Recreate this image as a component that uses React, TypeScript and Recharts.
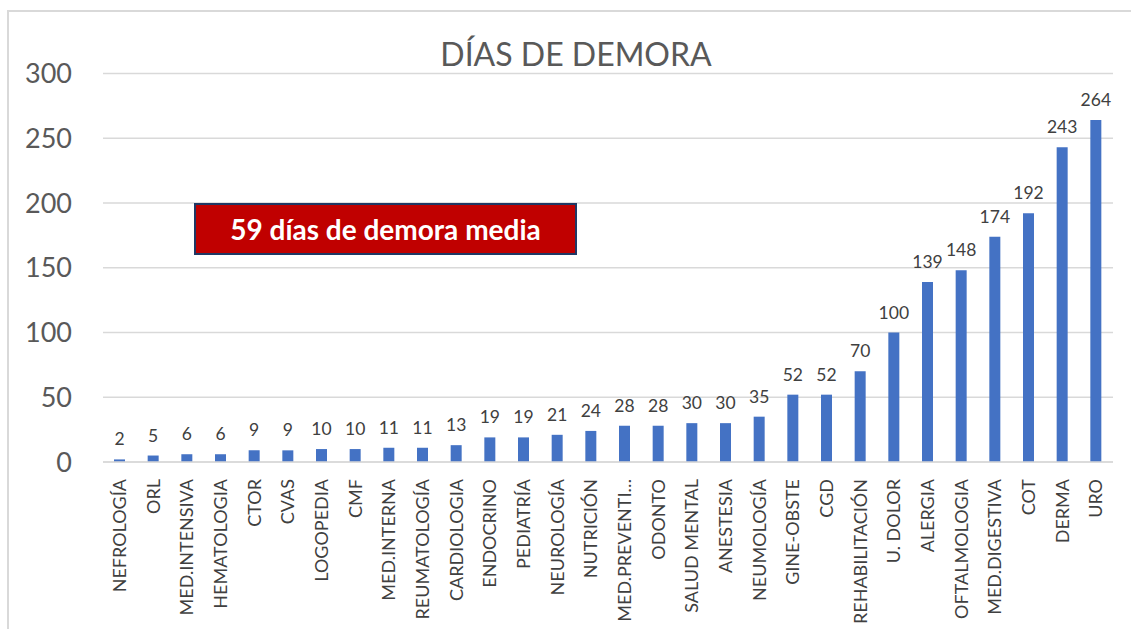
import React from 'react';
import { BarChart, Bar, XAxis, YAxis, CartesianGrid, LabelList } from 'recharts';

const categories = [
  'NEFROLOGÍA', 'ORL', 'MED.INTENSIVA', 'HEMATOLOGIA', 'CTOR', 'CVAS', 'LOGOPEDIA', 'CMF',
  'MED.INTERNA', 'REUMATOLOGÍA', 'CARDIOLOGIA', 'ENDOCRINO', 'PEDIATRÍA', 'NEUROLOGÍA',
  'NUTRICIÓN', 'MED.PREVENTI…', 'ODONTO', 'SALUD MENTAL', 'ANESTESIA', 'NEUMOLOGÍA',
  'GINE-OBSTE', 'CGD', 'REHABILITACIÓN', 'U. DOLOR', 'ALERGIA', 'OFTALMOLOGIA',
  'MED.DIGESTIVA', 'COT', 'DERMA', 'URO',
];
const dias = [2, 5, 6, 6, 9, 9, 10, 10, 11, 11, 13, 19, 19, 21, 24, 28, 28, 30, 30, 35, 52, 52, 70, 100, 139, 148, 174, 192, 243, 264];
const yTicks = [0, 50, 100, 150, 200, 250, 300];

const data = categories.map((c, i) => ({ name: c, dias: dias[i] }));

const FONT = 'Lato, "Open Sans", sans-serif';

const XTick = (props: any) => {
  const { x, y, payload } = props;
  return (
    <text
      x={0}
      y={0}
      transform={`translate(${x + 6},${y + 9}) rotate(-90)`}
      textAnchor="end"
      fontSize={18}
      fontFamily={FONT}
      fill="#404040"
    >
      {payload.value}
    </text>
  );
};

export default function App() {
  return (
    <div style={{ position: 'absolute', left: 0, top: 0, width: 1131, height: 629, background: '#fff', overflow: 'hidden' }}>
      <div style={{ position: 'absolute', left: 7, top: 10, right: 0, bottom: 0, borderLeft: '2px solid #D9D9D9', borderTop: '2px solid #D9D9D9' }} />
      <div
        style={{
          position: 'absolute', left: 0, width: 1152, top: 34, textAlign: 'center',
          fontFamily: FONT, fontSize: 32, color: '#595959', lineHeight: '40px',
        }}
      >
        DÍAS DE DEMORA
      </div>
      <BarChart
        width={1131}
        height={629}
        data={data}
        margin={{ top: 73.5, right: 18, left: 0, bottom: 0 }}
        barSize={11}
        style={{ position: 'absolute', left: 0, top: 0 }}
      >
        <CartesianGrid vertical={false} stroke="#D9D9D9" strokeWidth={1.5} />
        <XAxis
          dataKey="name"
          interval={0}
          height={167}
          axisLine={{ stroke: '#D9D9D9', strokeWidth: 1.5 }}
          tickLine={false}
          tick={<XTick />}
        />
        <YAxis
          domain={[0, 300]}
          ticks={yTicks}
          width={103}
          axisLine={false}
          tickLine={false}
          tickSize={0}
          tickMargin={31}
          tick={{ fontSize: 27, fontFamily: FONT, fill: '#595959' }}
        />
        <Bar dataKey="dias" fill="#4472C4" isAnimationActive={false}>
          <LabelList dataKey="dias" position="top" offset={14} fontSize={17.5} fontFamily={FONT} fill="#404040" />
        </Bar>
      </BarChart>
      <div
        style={{
          position: 'absolute', left: 194, top: 203, width: 383, height: 52, boxSizing: 'border-box',
          background: '#C00000', border: '2px solid #203864', color: '#fff',
          fontFamily: FONT, fontWeight: 700, fontSize: 28, display: 'flex',
          alignItems: 'center', justifyContent: 'center',
        }}
      >
        59 días de demora media
      </div>
    </div>
  );
}
